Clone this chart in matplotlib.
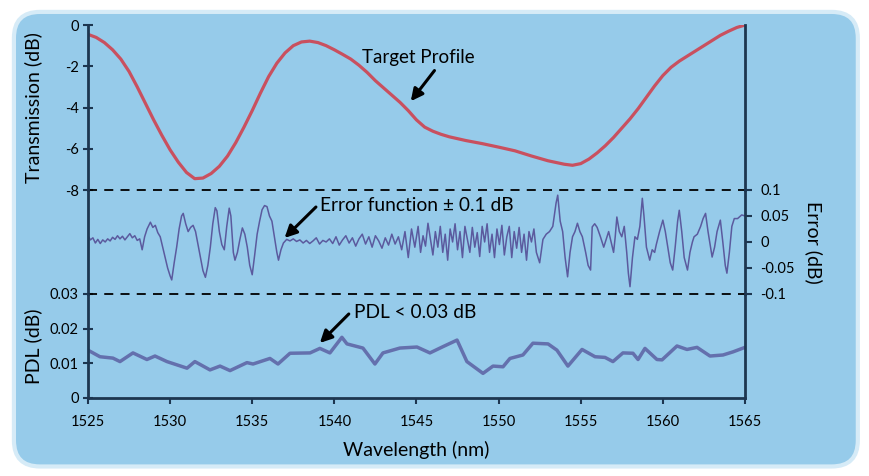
import numpy as np
import matplotlib
matplotlib.use("Agg")
import matplotlib.pyplot as plt
from matplotlib.patches import FancyBboxPatch

plt.rcParams['font.family'] = ['Lato', 'DejaVu Sans']
plt.rcParams['axes.unicode_minus'] = False

# transmission (target profile)
tr_wl = [1525.0, 1525.5, 1526.0, 1526.5, 1527.0, 1527.5, 1528.0, 1528.5, 1529.0, 1529.5,
         1530.0, 1530.5, 1531.0, 1531.5, 1532.0, 1532.5, 1533.0, 1533.5, 1534.0, 1534.5,
         1535.0, 1535.5, 1536.0, 1536.5, 1537.0, 1537.5, 1538.0, 1538.5, 1539.0, 1539.5,
         1540.0, 1540.5, 1541.0, 1541.5, 1542.0, 1542.5, 1543.0, 1543.5, 1544.0, 1544.5,
         1545.0, 1545.5, 1546.0, 1546.5, 1547.0, 1548.0, 1549.0, 1550.0, 1551.0, 1552.0,
         1553.0, 1554.0, 1554.5, 1555.0, 1555.5, 1556.0, 1556.5, 1557.0, 1557.5, 1558.0,
         1558.5, 1559.0, 1559.5, 1560.0, 1560.5, 1561.0, 1561.5, 1562.0, 1562.5, 1563.0,
         1563.5, 1564.0, 1564.5, 1565.0]
tr_db = [-0.45, -0.6, -0.85, -1.2, -1.65, -2.25, -3.0, -3.8, -4.6, -5.35,
         -6.05, -6.65, -7.15, -7.45, -7.42, -7.2, -6.85, -6.35, -5.7, -4.95,
         -4.15, -3.3, -2.5, -1.85, -1.35, -1.0, -0.82, -0.78, -0.85, -1.0,
         -1.2, -1.42, -1.65, -1.95, -2.3, -2.7, -3.05, -3.4, -3.75, -4.15,
         -4.6, -4.95, -5.15, -5.3, -5.42, -5.6, -5.75, -5.92, -6.1, -6.35,
         -6.58, -6.75, -6.8, -6.72, -6.5, -6.2, -5.85, -5.45, -5.0, -4.55,
         -4.05, -3.5, -2.95, -2.45, -2.05, -1.75, -1.5, -1.25, -1.0, -0.75,
         -0.5, -0.3, -0.12, 0.0]

# error function
err_wl = [1525.0, 1525.15, 1525.3, 1525.45, 1525.6, 1525.75, 1525.9, 1526.05, 1526.2, 1526.35,
          1526.5, 1526.65, 1526.8, 1526.95, 1527.1, 1527.25, 1527.4, 1527.55, 1527.7, 1527.85,
          1528.0, 1528.15, 1528.3, 1528.45, 1528.6, 1528.8, 1528.95, 1529.1, 1529.25, 1529.4,
          1529.55, 1529.7, 1529.85, 1530.0, 1530.1, 1530.25, 1530.4, 1530.55, 1530.7, 1530.8,
          1530.95, 1531.1, 1531.25, 1531.4, 1531.55, 1531.7, 1531.85, 1532.0, 1532.15, 1532.3,
          1532.45, 1532.6, 1532.75, 1532.85, 1533.0, 1533.15, 1533.3, 1533.45, 1533.6, 1533.7,
          1533.85, 1533.95, 1534.1, 1534.25, 1534.4, 1534.55, 1534.7, 1534.85, 1535.0, 1535.15,
          1535.3, 1535.45, 1535.6, 1535.75, 1535.9, 1536.05, 1536.2, 1536.35, 1536.5, 1536.6,
          1536.75, 1536.9, 1537.1, 1537.3, 1537.5, 1537.7, 1537.9, 1538.1, 1538.3, 1538.5,
          1538.7, 1538.9, 1539.1, 1539.3, 1539.5, 1539.7, 1539.9, 1540.1, 1540.3, 1540.5,
          1540.7, 1540.9, 1541.1, 1541.3, 1541.5, 1541.7, 1541.9, 1542.1, 1542.3, 1542.5,
          1542.7, 1542.9, 1543.1, 1543.3, 1543.5, 1543.7, 1543.9, 1544.1, 1544.3, 1544.5,
          1544.7, 1544.9, 1545.1, 1545.25, 1545.4, 1545.55, 1545.7, 1545.85, 1546.0, 1546.15,
          1546.3, 1546.45, 1546.6, 1546.75, 1546.9, 1547.05, 1547.2, 1547.35, 1547.5, 1547.65,
          1547.8, 1547.95, 1548.1, 1548.25, 1548.4, 1548.55, 1548.7, 1548.85, 1549.0, 1549.15,
          1549.3, 1549.45, 1549.6, 1549.75, 1549.9, 1550.05, 1550.2, 1550.35, 1550.5, 1550.65,
          1550.8, 1550.95, 1551.1, 1551.25, 1551.4, 1551.55, 1551.7, 1551.85, 1552.0, 1552.15,
          1552.3, 1552.5, 1552.7, 1552.9, 1553.1, 1553.3, 1553.5, 1553.6, 1553.75, 1553.9,
          1554.05, 1554.2, 1554.35, 1554.5, 1554.65, 1554.8, 1554.95, 1555.1, 1555.3, 1555.45,
          1555.6, 1555.7, 1555.85, 1556.0, 1556.2, 1556.4, 1556.55, 1556.7, 1556.85, 1557.0,
          1557.1, 1557.2, 1557.35, 1557.5, 1557.65, 1557.8, 1557.9, 1558.0, 1558.15, 1558.3,
          1558.45, 1558.6, 1558.75, 1558.85, 1559.0, 1559.2, 1559.35, 1559.5, 1559.6, 1559.8,
          1560.0, 1560.15, 1560.3, 1560.45, 1560.6, 1560.75, 1560.9, 1561.0, 1561.15, 1561.3,
          1561.5, 1561.65, 1561.8, 1561.9, 1562.1, 1562.3, 1562.45, 1562.6, 1562.75, 1562.9,
          1563.0, 1563.15, 1563.3, 1563.5, 1563.65, 1563.8, 1563.9, 1564.05, 1564.2, 1564.35,
          1564.55, 1564.8, 1565.0]
err_db = [0.012, 0.004, 0.008, -0.002, 0.005, -0.003, 0.004, 0.0, 0.006, 0.002,
          0.009, 0.005, 0.012, 0.006, 0.011, 0.004, 0.01, 0.016, 0.008, 0.012,
          0.003, 0.006, -0.015, 0.01, 0.025, 0.038, 0.028, 0.032, 0.018, 0.01,
          -0.01, -0.03, -0.05, -0.065, -0.073, -0.04, -0.01, 0.025, 0.05, 0.055,
          0.035, 0.02, 0.028, 0.032, 0.02, -0.005, -0.03, -0.055, -0.068, -0.045,
          -0.01, 0.035, 0.066, 0.06, 0.02, -0.005, -0.015, 0.03, 0.065, 0.05,
          -0.02, -0.035, -0.02, 0.005, 0.027, 0.015, -0.01, -0.045, -0.063, -0.025,
          0.015, 0.04, 0.062, 0.07, 0.068, 0.05, 0.04, 0.01, -0.02, -0.035,
          -0.015, -0.002, 0.005, 0.002, 0.006, 0.001, 0.004, -0.002, 0.003, -0.003,
          0.002, 0.008, -0.004, 0.003, 0.0, 0.006, -0.003, 0.01, -0.006, 0.004,
          0.012, -0.002, 0.008, -0.008, 0.006, 0.015, -0.004, 0.01, -0.01, 0.012,
          0.002, -0.012, 0.008, -0.006, 0.015, -0.004, 0.01, -0.015, 0.02, -0.03,
          0.025, -0.01, 0.03, -0.02, 0.012, -0.008, 0.036, 0.005, -0.025, 0.02,
          -0.01, 0.03, -0.02, 0.015, -0.035, 0.025, 0.0, 0.035, -0.015, 0.02,
          -0.03, 0.03, 0.005, -0.02, 0.028, -0.01, 0.018, -0.028, 0.03, 0.0,
          0.035, -0.02, 0.015, -0.03, 0.025, -0.005, 0.032, -0.025, 0.01, 0.03,
          -0.03, 0.02, -0.012, 0.028, -0.02, 0.015, -0.035, 0.02, 0.0, 0.025,
          -0.02, -0.04, 0.005, 0.015, 0.02, 0.03, 0.075, 0.09, 0.04, 0.02,
          -0.03, -0.067, -0.02, 0.01, 0.02, 0.036, 0.02, 0.01, -0.02, -0.045,
          -0.054, 0.029, 0.035, 0.028, 0.01, -0.01, 0.005, 0.02, 0.0, -0.02,
          0.01, 0.048, 0.02, 0.01, 0.03, -0.02, -0.06, -0.086, -0.03, 0.01,
          0.005, 0.03, 0.084, 0.05, -0.01, -0.035, -0.015, -0.02, -0.005, 0.02,
          0.042, 0.02, -0.01, -0.04, -0.054, -0.01, 0.04, 0.061, 0.02, -0.03,
          -0.054, -0.02, 0.0, 0.01, 0.015, 0.03, 0.045, 0.055, 0.02, -0.01,
          -0.029, -0.01, 0.02, 0.042, 0.0, -0.045, -0.06, -0.02, 0.03, 0.045,
          0.045, 0.052, 0.05]

# polarisation dependent loss
pdl_wl = [1525.0, 1525.73, 1526.52, 1526.95, 1527.74, 1528.59, 1529.08, 1529.81, 1531.03, 1531.51,
          1532.43, 1533.04, 1533.65, 1534.68, 1535.05, 1536.08, 1536.57, 1537.3, 1538.52, 1539.12,
          1539.73, 1540.46, 1540.77, 1541.74, 1542.47, 1542.96, 1543.99, 1545.03, 1545.82, 1546.61,
          1547.47, 1548.07, 1549.05, 1549.66, 1550.27, 1550.69, 1551.48, 1552.09, 1553.01, 1553.55,
          1554.22, 1555.08, 1555.87, 1556.48, 1556.96, 1557.57, 1558.18, 1558.49, 1558.91, 1559.64,
          1559.95, 1560.86, 1561.47, 1562.08, 1562.87, 1563.66, 1564.27, 1565.0]
pdl_db = [0.0138, 0.0119, 0.0115, 0.0105, 0.013, 0.0111, 0.0121, 0.0105, 0.0086, 0.0105,
          0.0081, 0.0092, 0.0079, 0.0102, 0.0098, 0.0114, 0.0098, 0.0129, 0.013, 0.0143,
          0.013, 0.0175, 0.0156, 0.0144, 0.0098, 0.013, 0.0144, 0.0147, 0.013, 0.0148,
          0.0167, 0.0105, 0.0071, 0.0092, 0.009, 0.0114, 0.0124, 0.0158, 0.0156, 0.0138,
          0.0092, 0.014, 0.0119, 0.0117, 0.0105, 0.013, 0.0129, 0.0111, 0.0143, 0.0111,
          0.011, 0.015, 0.014, 0.0146, 0.0121, 0.0124, 0.0133, 0.0146]

x_ticks = [1525, 1530, 1535, 1540, 1545, 1550, 1555, 1560, 1565]
tr_ticks = [0, -2, -4, -6, -8]
err_ticks = [0.1, 0.05, 0, -0.05, -0.1]
err_labels = ["0.1", "0.05", "0", "-0.05", "-0.1"]
pdl_ticks = [0, 0.01, 0.02, 0.03]
pdl_labels = ["0", "0.01", "0.02", "0.03"]

bg = '#96cbea'
spine_c = '#1d3650'

fig = plt.figure(figsize=(8.7, 4.76), dpi=100)
fig.patch.set_facecolor('white')
frame = FancyBboxPatch((0.016, 0.02), 0.97, 0.955, boxstyle="round,pad=0,rounding_size=0.03",
                       transform=fig.transFigure, facecolor=bg, edgecolor='#d6ebf7', lw=3,
                       mutation_aspect=870 / 476, zorder=-5)
fig.patches.append(frame)

left, width = 0.1011, 0.7552
ax1 = fig.add_axes([left, 0.6008, width, 0.3466])
ax2 = fig.add_axes([left, 0.3824, width, 0.2185])
ax3 = fig.add_axes([left, 0.1639, width, 0.2185])

for ax in (ax1, ax2, ax3):
    ax.patch.set_visible(False)
    ax.set_zorder(1)
    ax.set_xlim(1525, 1565)
    for s in ax.spines.values():
        s.set_visible(False)
    for side in ('left', 'right'):
        ax.spines[side].set_visible(True)
        ax.spines[side].set_color(spine_c)
        ax.spines[side].set_linewidth(2)
    ax.tick_params(axis='x', bottom=False, labelbottom=False)
    ax.tick_params(labelsize=10.5, colors='black')
    ax.tick_params(axis='y', color=spine_c, width=1.5)

# top panel
ax1.plot(tr_wl, tr_db, color='#c9505f', lw=2.3, solid_joinstyle='round')
ax1.set_ylim(-8, 0)
ax1.set_yticks(tr_ticks)
ax1.set_yticklabels([str(t) for t in tr_ticks])
ax1.tick_params(axis='y', direction='inout', length=7, pad=3, right=False)
ax1.axhline(-8, color='black', ls=(0, (5, 4)), lw=1.3, clip_on=False)
ax1.set_ylabel("Transmission (dB)", fontsize=14)
ax1.yaxis.set_label_coords(-0.07, 0.5)
ax1.annotate("", xy=(1544.55, -3.8), xytext=(1546.2, -2.1),
             arrowprops=dict(arrowstyle='-|>', color='black', lw=2.2, mutation_scale=18))
ax1.text(1545.1, -1.55, "Target Profile", fontsize=13.5, ha='center', va='center')

# middle panel
ax2.plot(err_wl, err_db, color='#5b5a9e', lw=1.1, solid_joinstyle='round')
ax2.set_ylim(-0.1, 0.1)
ax2.yaxis.tick_right()
ax2.set_yticks(err_ticks)
ax2.set_yticklabels(err_labels)
ax2.tick_params(axis='y', direction='out', length=5, pad=6)
ax2.text(1.105, 0.5, "Error (dB)", transform=ax2.transAxes, fontsize=14,
         rotation=-90, ha='center', va='center')
ax2.annotate("", xy=(1536.85, 0.004), xytext=(1539.0, 0.071),
             arrowprops=dict(arrowstyle='-|>', color='black', lw=2.2, mutation_scale=18))
ax2.text(1539.15, 0.071, "Error function \u00b1 0.1 dB", fontsize=13.8, ha='left', va='center')

# bottom panel
ax3.plot(pdl_wl, pdl_db, color='#6470ad', lw=2.5, solid_joinstyle='round')
ax3.set_ylim(0, 0.03)
ax3.set_yticks(pdl_ticks)
ax3.set_yticklabels(pdl_labels)
ax3.tick_params(axis='y', direction='inout', length=7, pad=3, right=False)
ax3.axhline(0.03, color='black', ls=(0, (5, 4)), lw=1.3, clip_on=False)
ax3.spines['bottom'].set_visible(True)
ax3.spines['bottom'].set_color(spine_c)
ax3.spines['bottom'].set_linewidth(2)
ax3.set_xticks(x_ticks)
ax3.set_xticklabels([str(t) for t in x_ticks])
ax3.tick_params(axis='x', bottom=True, labelbottom=True, direction='out', length=4,
                width=1.5, color=spine_c, pad=8)
ax3.set_xlabel("Wavelength (nm)", fontsize=14, labelpad=9)
ax3.set_ylabel("PDL (dB)", fontsize=14)
ax3.yaxis.set_label_coords(-0.07, 0.5)
ax3.annotate("", xy=(1539.0, 0.0153), xytext=(1541.0, 0.0248),
             arrowprops=dict(arrowstyle='-|>', color='black', lw=2.2, mutation_scale=18))
ax3.text(1541.2, 0.0248, "PDL < 0.03 dB", fontsize=13.8, ha='left', va='center')

fig.savefig("out.png", dpi=100, facecolor=fig.get_facecolor())
